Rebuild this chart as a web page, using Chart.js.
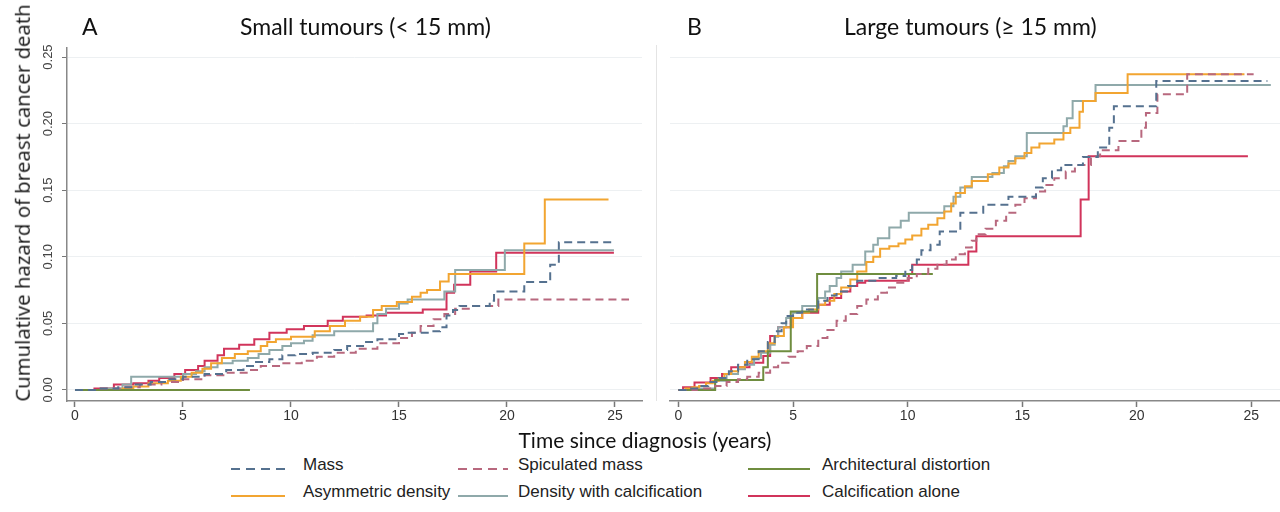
<!DOCTYPE html>
<html>
<head>
<meta charset="utf-8">
<script src="https://cdn.jsdelivr.net/npm/chart.js@4.4.1/dist/chart.umd.min.js"></script>
<style>
  body { margin: 0; background: #fff; }
  #page { position: relative; width: 1280px; height: 512px; overflow: hidden; background: #fff; }
  .wrap { position: absolute; top: 0; height: 430px; }
  #wrapA { left: 0; width: 656px; }
  #wrapB { left: 656px; width: 624px; }
  #sep { position: absolute; left: 656px; top: 45px; width: 1px; height: 356px; background: #e4e4e4; }
  .ptitle { position: absolute; top: 12px; font-family: Lato, sans-serif; font-size: 23px; color: #111; white-space: nowrap; }
  #ytitle { position: absolute; left: 22px; top: 203px; transform: translate(-50%, -50%) rotate(-90deg);
    font-family: "Open Sans", sans-serif; font-size: 20.4px; color: #111; white-space: nowrap; line-height: 1; }
  #xtitle { position: absolute; top: 427px; left: 0; width: 1290px; text-align: center; font-family: Lato, sans-serif; font-size: 21px; color: #111; }
  .legsw { position: absolute; }
  .legtx { position: absolute; font-family: "Liberation Sans", Arial, sans-serif; font-size: 17px; color: #222; white-space: nowrap; }
</style>
</head>
<body>
<div id="page">
  <div class="wrap" id="wrapA"><canvas id="chartA"></canvas></div>
  <div class="wrap" id="wrapB"><canvas id="chartB"></canvas></div>
  <div id="sep"></div>
  <div id="ytitle">Cumulative hazard of breast cancer death</div>
  <div class="ptitle" style="left:82px">A</div>
  <div class="ptitle" style="left:240px">Small tumours (&lt; 15 mm)</div>
  <div class="ptitle" style="left:687px">B</div>
  <div class="ptitle" style="left:844px">Large tumours (≥ 15 mm)</div>
  <div id="xtitle">Time since diagnosis (years)</div>
  <div id="legend"></div>
</div>
<script>
const seriesNames = ["Mass", "Spiculated mass", "Architectural distortion",
  "Asymmetric density", "Density with calcification", "Calcification alone"];
const seriesColors = ["#55718f", "#b8687e", "#6f8d3f", "#f2a531", "#8fa9aa", "#d1345b"];
const seriesDash = [[8, 5], [8, 5], [], [], [], []];
const xTicks = [0, 5, 10, 15, 20, 25];
const yTicks = [0, 0.05, 0.10, 0.15, 0.20, 0.25];

// Panel A: small tumours, [years, cumulative hazard]
const smallMass = [[0,0],[1.0,0.001],[2.0,0.002],[2.7,0.004],[3.5,0.006],[4.3,0.008],[5.0,0.010],[6.0,0.012],
  [7.0,0.015],[7.8,0.018],[8.3,0.021],[9.0,0.023],[9.6,0.026],[10.2,0.027],[11.0,0.028],[12.0,0.030],
  [12.6,0.033],[13.4,0.036],[14.0,0.038],[15.0,0.042],[15.4,0.043],[16.4,0.044],[16.9,0.047],[17.2,0.056],
  [17.5,0.060],[17.8,0.063],[19.2,0.067],[19.4,0.074],[20.8,0.081],[22.0,0.094],[22.4,0.111],[25.0,0.111]];
const smallSpic = [[0,0],[1.0,0.001],[2.2,0.002],[3.0,0.004],[4.0,0.006],[5.0,0.008],[6.0,0.011],[7.0,0.013],
  [8.0,0.015],[8.6,0.018],[9.5,0.020],[10.5,0.022],[11.2,0.025],[12.0,0.028],[13.0,0.031],[14.0,0.035],
  [15.0,0.039],[15.6,0.043],[16.0,0.048],[16.6,0.053],[17.1,0.057],[17.6,0.061],[18.3,0.063],[19.6,0.068],
  [25.65,0.068]];
const smallArch = [[0,0],[8.1,0]];
const smallAsym = [[0,0],[2.2,0.001],[2.7,0.0025],[3.4,0.005],[4.3,0.007],[4.9,0.010],[5.4,0.013],[5.9,0.016],
  [6.3,0.020],[6.8,0.024],[7.4,0.027],[8.0,0.029],[8.6,0.033],[8.9,0.036],[9.3,0.038],[10.0,0.040],
  [11.1,0.044],[11.8,0.048],[12.5,0.052],[13.2,0.055],[13.8,0.060],[14.2,0.063],[14.9,0.066],[15.6,0.070],
  [16.0,0.073],[16.3,0.075],[16.9,0.0815],[17.3,0.087],[20.8,0.110],[21.75,0.143],[24.7,0.143]];
const smallDens = [[0,0],[1.5,0.001],[2.2,0.004],[2.6,0.010],[5.0,0.012],[5.6,0.014],[6.0,0.017],[6.6,0.020],
  [7.3,0.022],[8.0,0.024],[8.5,0.027],[9.0,0.030],[9.6,0.033],[10.0,0.035],[10.6,0.037],[11.0,0.041],
  [12.0,0.044],[13.8,0.050],[14.0,0.057],[14.4,0.061],[15.0,0.065],[15.4,0.068],[17.1,0.074],[17.6,0.090],
  [19.9,0.105],[24.95,0.105]];
const smallCalc = [[0,0],[0.9,0.001],[1.8,0.004],[2.7,0.005],[3.4,0.007],[3.9,0.009],[4.6,0.012],[5.1,0.015],
  [5.7,0.018],[6.0,0.022],[6.6,0.026],[6.9,0.031],[7.6,0.034],[8.3,0.038],[9.0,0.043],[9.8,0.0455],
  [10.6,0.048],[11.7,0.052],[12.4,0.055],[13.5,0.056],[14.4,0.058],[16.1,0.0605],[17.2,0.073],[17.55,0.079],
  [18.3,0.089],[19.5,0.103],[24.95,0.103]];

// Panel B: large tumours, [years, cumulative hazard]
const largeMass = [[0,0],[0.5,0.001],[0.9,0.003],[1.3,0.006],[1.76,0.009],[2.2,0.014],[2.6,0.019],[3.0,0.023],
  [3.5,0.029],[3.9,0.036],[4.2,0.044],[4.5,0.050],[4.7,0.0555],[5.0,0.058],[5.4,0.0605],[6.1,0.067],
  [6.5,0.071],[6.9,0.074],[7.4,0.078],[7.8,0.082],[8.7,0.084],[9.5,0.0855],[9.9,0.090],[10.2,0.095],
  [10.4,0.098],[10.6,0.105],[11.0,0.109],[11.4,0.119],[12.3,0.133],[13.3,0.139],[14.4,0.145],[15.6,0.152],
  [15.9,0.159],[16.3,0.165],[16.7,0.169],[17.65,0.175],[18.3,0.182],[18.8,0.197],[19.0,0.213],[20.85,0.232],
  [25.7,0.232]];
const largeSpic = [[0,0],[0.8,0.001],[1.6,0.003],[2.1,0.006],[2.6,0.008],[3.0,0.010],[3.5,0.013],[4.0,0.017],
  [4.35,0.0205],[4.8,0.025],[5.2,0.029],[5.6,0.033],[6.1,0.039],[6.5,0.045],[6.9,0.052],[7.3,0.057],
  [7.8,0.063],[8.2,0.068],[8.7,0.073],[9.1,0.077],[9.5,0.0805],[10.0,0.084],[10.4,0.087],[10.9,0.091],
  [11.3,0.094],[11.7,0.098],[12.1,0.102],[12.5,0.107],[12.8,0.112],[13.0,0.117],[13.4,0.121],[13.85,0.127],
  [14.3,0.133],[14.7,0.139],[15.1,0.144],[15.6,0.149],[16.0,0.154],[16.4,0.159],[16.9,0.164],[17.3,0.169],
  [18.0,0.1755],[18.4,0.180],[19.2,0.187],[20.2,0.197],[20.4,0.208],[20.9,0.222],[22.2,0.237],[25.1,0.237]];
const largeArch = [[0,0],[1.6,0.0075],[3.7,0.017],[3.9,0.029],[4.9,0.059],[6.05,0.087],[11.1,0.087]];
const largeAsym = [[0,0],[0.3,0.001],[0.6,0.002],[0.9,0.003],[1.2,0.005],[1.5,0.007],[1.76,0.009],[2.0,0.012],
  [2.3,0.014],[2.6,0.017],[2.9,0.021],[3.2,0.025],[3.5,0.029],[3.9,0.035],[4.2,0.0405],[4.6,0.047],
  [5.0,0.054],[5.4,0.058],[5.7,0.0605],[6.1,0.064],[6.4,0.067],[6.8,0.072],[7.1,0.077],[7.5,0.083],
  [7.8,0.089],[8.2,0.096],[8.5,0.100],[8.8,0.106],[9.2,0.108],[9.6,0.110],[9.9,0.113],[10.2,0.116],
  [10.6,0.121],[10.9,0.124],[11.3,0.129],[11.6,0.134],[11.9,0.140],[12.1,0.148],[12.5,0.153],[12.8,0.157],
  [13.5,0.162],[14.0,0.167],[14.4,0.170],[14.7,0.174],[15.1,0.178],[15.4,0.182],[15.75,0.185],[16.4,0.188],
  [16.8,0.193],[17.1,0.197],[17.5,0.209],[17.65,0.217],[18.2,0.223],[19.6,0.237],[24.7,0.237]];
const largeDens = [[0,0],[0.7,0.001],[1.6,0.007],[2.1,0.012],[2.6,0.0155],[2.9,0.019],[3.3,0.024],[3.6,0.028],
  [4.0,0.034],[4.2,0.040],[4.35,0.047],[4.7,0.054],[5.0,0.058],[5.4,0.063],[6.1,0.069],[6.4,0.074],
  [6.6,0.078],[6.9,0.084],[7.1,0.089],[7.6,0.094],[8.15,0.104],[8.5,0.109],[8.7,0.114],[9.2,0.122],
  [9.7,0.127],[10.05,0.133],[11.6,0.138],[12.0,0.145],[12.3,0.152],[12.8,0.160],[13.7,0.163],[14.2,0.168],
  [14.4,0.172],[14.7,0.1755],[15.2,0.193],[16.8,0.198],[16.95,0.204],[17.2,0.217],[18.2,0.229],[25.85,0.229]];
const largeCalc = [[0,0],[0.2,0.002],[0.7,0.0055],[1.4,0.009],[1.9,0.012],[2.3,0.017],[3.1,0.0205],[3.7,0.0255],
  [4.0,0.0405],[4.35,0.047],[4.9,0.054],[5.4,0.058],[6.1,0.064],[6.6,0.069],[7.1,0.074],[7.5,0.078],
  [7.8,0.0805],[8.15,0.082],[10.05,0.087],[10.2,0.094],[12.65,0.104],[13.0,0.1155],[17.55,0.143],[17.9,0.1755],
  [24.85,0.1755]];

const smallSeries = [smallMass, smallSpic, smallArch, smallAsym, smallDens, smallCalc];
const largeSeries = [largeMass, largeSpic, largeArch, largeAsym, largeDens, largeCalc];

function makeDatasets(series) {
  return series.map(function (pts, i) {
    return {
      label: seriesNames[i],
      data: pts.map(function (p) { return { x: p[0], y: p[1] }; }),
      borderColor: seriesColors[i],
      borderDash: seriesDash[i],
      borderWidth: 2,
      pointRadius: 0,
      stepped: "before",
      fill: false,
    };
  });
}

function makeChart(id, series, withYLabels) {
  var ctx = document.getElementById(id).getContext("2d");
  return new Chart(ctx, {
    type: "line",
    data: { datasets: makeDatasets(series) },
    options: {
      responsive: true,
      maintainAspectRatio: false,
      animation: false,
      layout: { padding: { top: 48, right: withYLabels ? 14 : 0, bottom: 0, left: 0 } },
      plugins: { legend: { display: false }, tooltip: { enabled: false } },
      scales: {
        x: {
          type: "linear",
          min: -0.37,
          max: 26.25,
          afterBuildTicks: function (scale) {
            scale.ticks = xTicks.map(function (v) { return { value: v }; });
          },
          afterFit: function (scale) { scale.height = 29; },
          grid: { drawOnChartArea: false, tickLength: 6, tickColor: "#777", tickWidth: 1.5 },
          border: { color: "#888", width: 1.5 },
          ticks: { color: "#333", padding: 1, font: { family: "Liberation Sans", size: 14 } },
        },
        y: {
          min: -0.0083,
          max: 0.2568,
          afterBuildTicks: function (scale) {
            scale.ticks = yTicks.map(function (v) { return { value: v }; });
          },
          afterFit: function (scale) { scale.width = withYLabels ? 67 : 14; },
          grid: {
            color: "#edf0f2",
            lineWidth: 1,
            drawTicks: withYLabels,
            tickLength: 5,
            tickColor: "#777",
          },
          border: { display: withYLabels, color: "#888", width: 1.5 },
          ticks: {
            display: withYLabels,
            color: "#444",
            padding: 1,
            minRotation: 90,
            maxRotation: 90,
            crossAlign: "center",
            font: { family: "Liberation Sans", size: 13 },
            callback: function (v) { return v.toFixed(2); },
          },
        },
      },
    },
  });
}

makeChart("chartA", smallSeries, true);
makeChart("chartB", largeSeries, false);

// legend built from the series names and colours, two rows of three
var legCols = [[231, 285, 303], [458, 508, 518], [748, 810, 822]];
var legRows = [465, 492];
var legend = document.getElementById("legend");
seriesNames.forEach(function (name, i) {
  var col = legCols[i % 3];
  var rowY = legRows[Math.floor(i / 3)];
  var w = col[1] - col[0];
  var dash = seriesDash[i].length ? ' stroke-dasharray="9,6"' : "";
  var sw = document.createElement("div");
  sw.className = "legsw";
  sw.style.left = col[0] + "px";
  sw.style.top = (rowY - 5) + "px";
  sw.innerHTML = '<svg width="' + w + '" height="10"><line x1="0" y1="5" x2="' + w + '" y2="5" stroke="' +
    seriesColors[i] + '" stroke-width="2"' + dash + '/></svg>';
  legend.appendChild(sw);
  var tx = document.createElement("div");
  tx.className = "legtx";
  tx.style.left = col[2] + "px";
  tx.style.top = (rowY - 10) + "px";
  tx.textContent = name;
  legend.appendChild(tx);
});
</script>
</body>
</html>
